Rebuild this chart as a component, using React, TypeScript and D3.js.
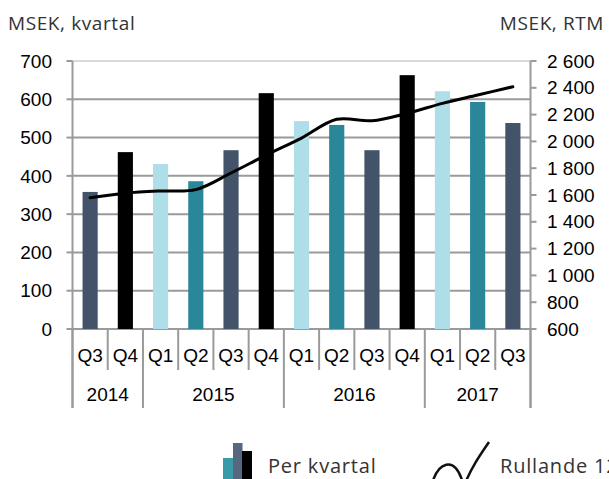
import React from "react";
import * as d3 from "d3";

const quarters = ["Q3", "Q4", "Q1", "Q2", "Q3", "Q4", "Q1", "Q2", "Q3", "Q4", "Q1", "Q2", "Q3"];
const yearLabels = ["2014", "2015", "2016", "2017"];
const yearStarts = [0, 2, 6, 10];
const yearEnds = [2, 6, 10, 13];
const perQuarter = [358, 462, 431, 386, 467, 616, 543, 533, 467, 663, 621, 593, 538];
const rtm = [1580, 1613, 1630, 1640, 1764, 1898, 2025, 2165, 2154, 2210, 2284, 2346, 2408];
const leftTicks = [0, 100, 200, 300, 400, 500, 600, 700];
const rightTicks = [600, 800, 1000, 1200, 1400, 1600, 1800, 2000, 2200, 2400, 2600];

const qColor: Record<string, string> = {
  Q1: "#AEDFE8",
  Q2: "#2A8799",
  Q3: "#435369",
  Q4: "#000000",
};

const W = 609;
const H = 479;
const X0 = 72.5;
const X1 = 530.5;
const YT = 61;
const YB = 329;

const fmt = (v: number) => {
  const s = String(v);
  return s.length > 3 ? s.slice(0, s.length - 3) + " " + s.slice(-3) : s;
};

export default function App() {
  const idx = quarters.map((_, i) => i);
  const x = d3.scaleBand<number>().domain(idx).range([X0, X1]).padding(0);
  const step = x.step();
  const bw = step * 0.43;
  const yL = d3.scaleLinear().domain([0, 700]).range([YB, YT]);
  const yR = d3.scaleLinear().domain([600, 2600]).range([YB, YT]);
  const line = d3
    .line<number>()
    .x((_, i) => (x(i) as number) + step / 2)
    .y((d) => yR(d))
    .curve(d3.curveCatmullRom.alpha(0.5));

  const axisFont = "'Liberation Sans', Arial, sans-serif";
  const labelFont = "'Open Sans', 'Noto Sans', sans-serif";
  const gray = "#9a9a9a";
  const fs = 19;

  return (
    <svg
      width={W}
      height={H}
      style={{ position: "absolute", left: 0, top: 0, display: "block" }}
    >
      <rect x={0} y={0} width={W} height={H} fill="#fff" />
      {/* titles */}
      <text x={8} y={30} fontFamily={labelFont} fontSize={19} letterSpacing={0.6} fill="#333">
        MSEK, kvartal
      </text>
      <text x={604} y={30} textAnchor="end" fontFamily={labelFont} fontSize={19} letterSpacing={0.6} fill="#333">
        MSEK, RTM
      </text>

      {/* gridlines */}
      {leftTicks.map((t) => (
        <line
          key={"g" + t}
          x1={X0}
          x2={X1}
          y1={yL(t)}
          y2={yL(t)}
          stroke={t === 700 ? "#d9d9d9" : gray}
          strokeWidth={2}
        />
      ))}

      {/* bars */}
      {perQuarter.map((v, i) => (
        <rect
          key={"b" + i}
          x={(x(i) as number) + (step - bw) / 2}
          y={yL(v)}
          width={bw}
          height={yL(0) - yL(v)}
          fill={qColor[quarters[i]]}
        />
      ))}

      {/* axes */}
      <line x1={X0} x2={X0} y1={YT} y2={408} stroke={gray} strokeWidth={2} />
      <line x1={X1} x2={X1} y1={YT} y2={408} stroke={gray} strokeWidth={2} />
      {leftTicks.map((t) => (
        <g key={"l" + t}>
          <line x1={X0 - 6} x2={X0} y1={yL(t)} y2={yL(t)} stroke={gray} strokeWidth={2} />
          <text
            x={52}
            y={yL(t)}
            dy="0.35em"
            textAnchor="end"
            fontFamily={axisFont}
            fontSize={fs}
            fill="#000"
          >
            {t}
          </text>
        </g>
      ))}
      {rightTicks.map((t) => (
        <g key={"r" + t}>
          <line x1={X1} x2={X1 + 6} y1={yR(t)} y2={yR(t)} stroke={gray} strokeWidth={2} />
          <text
            x={547}
            y={yR(t)}
            dy="0.35em"
            textAnchor="start"
            fontFamily={axisFont}
            fontSize={fs}
            fill="#000"
          >
            {fmt(t)}
          </text>
        </g>
      ))}

      {/* category axis */}
      {idx.concat([13]).map((i) => {
        const xx = i === 13 ? X1 : (x(i) as number);
        const isYear = yearStarts.includes(i) || i === 13;
        return (
          <line
            key={"c" + i}
            x1={xx}
            x2={xx}
            y1={YB}
            y2={isYear ? 408 : 370}
            stroke={gray}
            strokeWidth={2}
          />
        );
      })}
      {quarters.map((q, i) => (
        <text
          key={"q" + i}
          x={(x(i) as number) + step / 2}
          y={355}
          dy="0.35em"
          textAnchor="middle"
          fontFamily={axisFont}
          fontSize={fs}
          fill="#000"
        >
          {q}
        </text>
      ))}
      {yearLabels.map((yl, k) => {
        const a = x(yearStarts[k]) as number;
        const b = yearEnds[k] === 13 ? X1 : (x(yearEnds[k]) as number);
        return (
          <text
            key={"y" + k}
            x={(a + b) / 2}
            y={394}
            dy="0.35em"
            textAnchor="middle"
            fontFamily={axisFont}
            fontSize={fs}
            fill="#000"
          >
            {yl}
          </text>
        );
      })}

      {/* RTM line */}
      <path d={line(rtm) || ""} fill="none" stroke="#000" strokeWidth={3} strokeLinejoin="round" strokeLinecap="round" />

      {/* legend */}
      <rect x={223} y={458} width={10} height={25} fill="#3A9BA8" />
      <rect x={233} y={443} width={9.5} height={40} fill="#566880" />
      <rect x={242} y={451} width={10} height={32} fill="#000" />
      <text x={268} y={473} fontFamily={labelFont} fontSize={20} letterSpacing={0.8} fill="#333">
        Per kvartal
      </text>
      <path
        d="M432,484 C438,462 454,456 462,480 M464,486 C471,468 480,455 489,442"
        fill="none"
        stroke="#111"
        strokeWidth={2.5}
      />
      <text x={500} y={473} fontFamily={labelFont} fontSize={20} letterSpacing={0.8} fill="#333">
        Rullande 12 månader
      </text>
    </svg>
  );
}
